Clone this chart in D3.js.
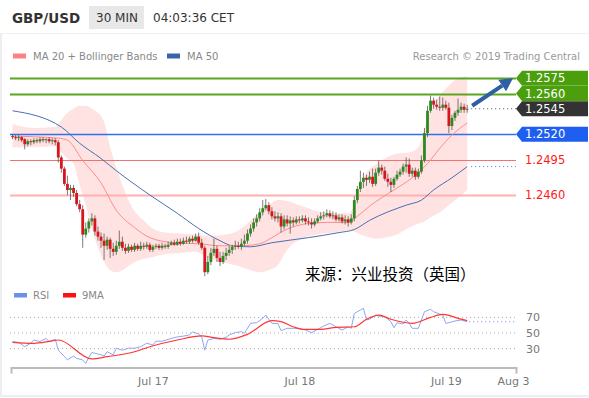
<!DOCTYPE html>
<meta charset="utf-8">
<style>

body {
  margin: 0;
  background: #fff;
}

svg {
  display: block;
  font-family: "DejaVu Sans", sans-serif;
}

</style>
<svg></svg>
<script src="https://d3js.org/d3.v7.min.js"></script>
<script>

var width = 589,
    height = 398;

// 30 min candles, GBP/USD
var open = [1.2518,1.2517,1.2516,1.2517,1.2515,1.2510,1.2513,1.2512,1.2514,1.2513,1.2515,1.2514,1.2515,1.2513,1.2514,
  1.2512,1.2497,1.2486,1.2471,1.2465,1.2467,1.2462,1.2451,1.2446,1.2421,1.2427,1.2434,1.2437,1.2424,1.2419,
  1.2415,1.2410,1.2416,1.2407,1.2404,1.2410,1.2414,1.2408,1.2405,1.2409,1.2406,1.2410,1.2407,1.2410,1.2409,
  1.2411,1.2406,1.2409,1.2410,1.2408,1.2410,1.2409,1.2411,1.2413,1.2411,1.2414,1.2412,1.2415,1.2414,1.2417,
  1.2415,1.2419,1.2413,1.2408,1.2384,1.2394,1.2403,1.2407,1.2398,1.2394,1.2400,1.2403,1.2406,1.2409,1.2410,
  1.2409,1.2412,1.2415,1.2422,1.2427,1.2433,1.2437,1.2443,1.2447,1.2450,1.2444,1.2439,1.2437,1.2439,1.2429,
  1.2436,1.2432,1.2435,1.2433,1.2436,1.2435,1.2437,1.2434,1.2433,1.2431,1.2434,1.2437,1.2439,1.2440,1.2442,
  1.2439,1.2440,1.2436,1.2438,1.2434,1.2436,1.2433,1.2437,1.2455,1.2466,1.2473,1.2477,1.2475,1.2478,1.2471,
  1.2482,1.2487,1.2484,1.2476,1.2473,1.2470,1.2476,1.2480,1.2483,1.2488,1.2490,1.2481,1.2484,1.2478,1.2483,
  1.2494,1.2521,1.2543,1.2553,1.2549,1.2547,1.2546,1.2549,1.2546,1.2528,1.2536,1.2541,1.2544,1.2547,1.2544];

var close = [1.2517,1.2516,1.2517,1.2514,1.2510,1.2513,1.2512,1.2514,1.2513,1.2515,1.2514,1.2515,1.2513,1.2514,1.2512,
  1.2497,1.2486,1.2471,1.2465,1.2467,1.2462,1.2451,1.2446,1.2421,1.2427,1.2434,1.2437,1.2424,1.2419,1.2415,
  1.2410,1.2416,1.2407,1.2404,1.2410,1.2414,1.2408,1.2405,1.2409,1.2406,1.2410,1.2407,1.2410,1.2409,1.2411,
  1.2406,1.2409,1.2410,1.2408,1.2410,1.2409,1.2411,1.2413,1.2411,1.2414,1.2412,1.2415,1.2414,1.2417,1.2415,
  1.2419,1.2413,1.2408,1.2384,1.2394,1.2403,1.2407,1.2398,1.2394,1.2400,1.2403,1.2406,1.2409,1.2410,1.2409,
  1.2412,1.2415,1.2422,1.2427,1.2433,1.2437,1.2443,1.2447,1.2450,1.2444,1.2439,1.2437,1.2439,1.2429,1.2436,
  1.2432,1.2435,1.2433,1.2436,1.2435,1.2437,1.2434,1.2433,1.2431,1.2434,1.2437,1.2439,1.2440,1.2442,1.2439,
  1.2440,1.2436,1.2438,1.2434,1.2436,1.2433,1.2437,1.2455,1.2466,1.2473,1.2477,1.2475,1.2478,1.2471,1.2482,
  1.2487,1.2484,1.2476,1.2473,1.2470,1.2476,1.2480,1.2483,1.2488,1.2490,1.2481,1.2484,1.2478,1.2483,1.2494,
  1.2521,1.2543,1.2553,1.2549,1.2547,1.2546,1.2549,1.2546,1.2528,1.2536,1.2541,1.2544,1.2547,1.2544,1.2545];

var high = [1.2520,1.2519,1.2519,1.2518,1.2516,1.2515,1.2515,1.2516,1.2516,1.2517,1.2517,1.2516,1.2517,1.2516,1.2516,
  1.2514,1.2499,1.2488,1.2479,1.2470,1.2470,1.2465,1.2455,1.2450,1.2433,1.2437,1.2442,1.2440,1.2429,1.2423,
  1.2422,1.2419,1.2418,1.2413,1.2415,1.2425,1.2419,1.2412,1.2412,1.2411,1.2413,1.2412,1.2414,1.2413,1.2414,
  1.2413,1.2411,1.2412,1.2412,1.2413,1.2412,1.2414,1.2415,1.2416,1.2417,1.2417,1.2418,1.2419,1.2419,1.2420,
  1.2422,1.2423,1.2417,1.2410,1.2400,1.2408,1.2417,1.2410,1.2404,1.2404,1.2408,1.2410,1.2411,1.2415,1.2414,
  1.2417,1.2421,1.2426,1.2431,1.2437,1.2441,1.2447,1.2455,1.2456,1.2453,1.2448,1.2444,1.2443,1.2442,1.2440,
  1.2440,1.2439,1.2438,1.2439,1.2439,1.2440,1.2440,1.2438,1.2437,1.2437,1.2440,1.2443,1.2444,1.2446,1.2445,
  1.2444,1.2443,1.2441,1.2441,1.2440,1.2439,1.2441,1.2459,1.2469,1.2484,1.2482,1.2480,1.2483,1.2486,1.2486,
  1.2494,1.2490,1.2488,1.2481,1.2477,1.2478,1.2484,1.2486,1.2491,1.2497,1.2496,1.2487,1.2487,1.2486,1.2499,
  1.2526,1.2548,1.2558,1.2556,1.2554,1.2557,1.2556,1.2553,1.2551,1.2539,1.2543,1.2555,1.2551,1.2550,1.2549];

var low = [1.2515,1.2514,1.2513,1.2512,1.2505,1.2508,1.2509,1.2510,1.2511,1.2511,1.2512,1.2511,1.2511,1.2510,1.2509,
  1.2492,1.2482,1.2469,1.2460,1.2455,1.2458,1.2449,1.2443,1.2408,1.2418,1.2423,1.2430,1.2420,1.2415,1.2408,
  1.2396,1.2406,1.2398,1.2400,1.2401,1.2407,1.2405,1.2402,1.2403,1.2404,1.2404,1.2405,1.2405,1.2406,1.2407,
  1.2404,1.2404,1.2407,1.2406,1.2406,1.2407,1.2407,1.2410,1.2410,1.2410,1.2410,1.2411,1.2412,1.2412,1.2413,
  1.2414,1.2411,1.2406,1.2380,1.2382,1.2391,1.2400,1.2394,1.2390,1.2392,1.2396,1.2400,1.2402,1.2406,1.2407,
  1.2406,1.2410,1.2412,1.2419,1.2424,1.2429,1.2434,1.2440,1.2445,1.2441,1.2436,1.2434,1.2433,1.2423,1.2426,
  1.2429,1.2422,1.2429,1.2431,1.2432,1.2433,1.2431,1.2430,1.2427,1.2429,1.2432,1.2435,1.2436,1.2438,1.2437,
  1.2436,1.2434,1.2434,1.2432,1.2431,1.2429,1.2431,1.2434,1.2452,1.2463,1.2467,1.2469,1.2472,1.2468,1.2469,
  1.2479,1.2480,1.2474,1.2468,1.2463,1.2467,1.2474,1.2478,1.2480,1.2482,1.2478,1.2478,1.2475,1.2476,1.2481,
  1.2492,1.2517,1.2541,1.2545,1.2544,1.2543,1.2543,1.2544,1.2521,1.2524,1.2533,1.2538,1.2541,1.2541,1.2541];

// MA 20, Bollinger bands and MA 50, read at bar positions
var ma20Idx = [0,15,18,23,29,34,40,45,53,61,68,75,81,85,89,97,103,110,113,117,125,131,136,140,144,149];
var ma20 = [1.2518,1.2516,1.2514,1.2494,1.2472,1.2445,1.2428,1.2418,1.2413,1.2412,1.2410,1.2410,1.2412,
  1.2418,1.2425,1.2432,1.2433,1.2433,1.2439,1.2449,1.2465,1.2477,1.2491,1.2506,1.2519,1.2531];

var ma50Idx = [0,16,22,29,34,45,54,61,68,72,78,85,97,107,112,117,129,134,138,144,149];
var ma50 = [1.2543,1.2527,1.2511,1.2496,1.2484,1.2460,1.2442,1.2427,1.2415,1.2410,1.2409,1.2413,1.2418,
  1.2423,1.2426,1.2435,1.2450,1.2455,1.2465,1.2477,1.2488];

var bandIdx = [0,7,14,16,18,20,22,24,26,28,30,32,34,36,38,40,43,46,50,55,60,63,66,70,74,78,81,84,87,90,
  93,96,100,105,110,112,114,116,119,122,126,130,133,135,137,140,143,146,149];
var bandUpper = [1.2530,1.2526,1.2527,1.2534,1.2541,1.2545,1.2548,1.2548,1.2545,1.2541,1.2532,1.2507,1.2487,
  1.2470,1.2455,1.2444,1.2435,1.2427,1.2423,1.2422,1.2421,1.2420,1.2420,1.2421,1.2425,1.2435,1.2443,1.2450,
  1.2455,1.2454,1.2451,1.2448,1.2444,1.2442,1.2442,1.2450,1.2470,1.2482,1.2490,1.2496,1.2501,1.2502,1.2507,
  1.2526,1.2545,1.2558,1.2568,1.2575,1.2577];
var bandLower = [1.2507,1.2507,1.2508,1.2502,1.2496,1.2491,1.2470,1.2450,1.2427,1.2408,1.2394,1.2386,1.2384,
  1.2386,1.2390,1.2394,1.2397,1.2399,1.2402,1.2403,1.2404,1.2400,1.2396,1.2393,1.2390,1.2386,1.2384,1.2386,
  1.2391,1.2406,1.2414,1.2418,1.2421,1.2423,1.2425,1.2424,1.2421,1.2419,1.2417,1.2418,1.2421,1.2428,1.2432,
  1.2434,1.2438,1.2443,1.2450,1.2457,1.2465];

// Key levels
var levels = [1.2575, 1.2560, 1.2545, 1.2520, 1.2495, 1.2460];
var levelLabels = ["1.2575", "1.2560", "1.2545", "1.2520", "1.2495", "1.2460"];
var targetPrice = 1.2575;

// RSI panel
var rsiIdx = [0,2,4,6,7,9,11,12,14,15,17,18,20,21,23,24,25,26,29,30,31,33,34,36,38,40,42,44,46,47,49,52,54,56,
  58,59,61,62,63,64,66,68,70,71,73,75,76,78,80,82,83,84,85,87,88,90,92,94,96,98,100,102,104,106,108,110,111,
  112,114,115,116,117,119,120,122,124,125,126,128,129,130,131,133,134,135,137,138,140,141,142,143,145,147,149];
var rsi = [39,38,32.5,37,41,39,43,39,42,28,20,15.5,20.5,17.5,15.5,11,19,25,22,20.5,26,22,30.5,28,30.5,30.5,
  32.5,37,34.5,39.5,39.5,43,45,46,47.5,51.5,48.7,45,28,41,43,42,44.5,47.5,50.5,51.7,49.6,62.4,63.2,68.8,73,
  67.6,62.4,62,53,56,56,56,53.8,50.4,54.7,59,62.4,58,53.8,58,56,75,79.5,81.7,66.7,67.6,73,71.8,71,64.5,56.8,
  63.2,61.5,66.7,62.4,56,56,66.7,77.3,80.4,77.3,74.4,73,62.4,63.2,65.4,66.7,64.5];

var rsiMaIdx = [0,7,13,15,26,31,40,45,54,62,66,71,77,85,88,92,95,101,106,112,116,120,124,131,137,141,146,149];
var rsiMa = [38,36.8,40,41,16.7,19.6,26,32.4,41,46.2,44,42,48.3,65.8,64.5,58,54.7,54.7,57.3,58,67.6,73,67.6,
  62.4,70.1,74,68.8,65.8];

var rsiLevels = [70, 50, 30];

var tickIdx = [46, 94, 142, 164];
var tickLabels = ["Jul 17", "Jul 18", "Jul 19", "Aug 3"];

var svg = d3.select("svg")
    .attr("width", width)
    .attr("height", height);

var x = d3.scaleLinear()
    .domain([-0.5, 165])
    .range([11, 516]);

var y = d3.scaleLinear()
    .domain([1.2575, 1.2375])
    .range([78.3, 281.3]);

var yr = d3.scaleLinear()
    .domain([30, 70])
    .range([348.6, 317.4]);

var lastIdx = close.length - 1,
    plotRight = x(165);

// frame
svg.append("rect").attr("x", 0).attr("y", 34).attr("width", 2).attr("height", 362).attr("fill", "#eceef1");
svg.append("rect").attr("x", 0).attr("y", 395).attr("width", width).attr("height", 2).attr("fill", "#eceef1");
svg.append("rect").attr("x", 0).attr("y", 33).attr("width", width).attr("height", 1).attr("fill", "#f1f1f1");

// header
svg.append("text").attr("x", 12).attr("y", 23)
    .attr("font-size", 13.5).attr("font-weight", "bold").attr("fill", "#333")
    .text("GBP/USD");
svg.append("rect").attr("x", 89).attr("y", 6).attr("width", 55).attr("height", 23).attr("fill", "#e8e8e8");
svg.append("text").attr("x", 96).attr("y", 22).attr("font-size", 12).attr("fill", "#333").text("30 MIN");
svg.append("text").attr("x", 153).attr("y", 22).attr("font-size", 12).attr("fill", "#333").text("04:03:36 CET");

// legend
var legend = [
  {x: 13, color: "#ff8080", text: "MA 20 + Bollinger Bands"},
  {x: 167, color: "#3c64a8", text: "MA 50"}
];
legend.forEach(function(d) {
  svg.append("rect").attr("x", d.x).attr("y", 53.5).attr("width", 13).attr("height", 5).attr("fill", d.color);
  svg.append("text").attr("x", d.x + 20).attr("y", 59.5).attr("font-size", 10).attr("fill", "#888").text(d.text);
});
svg.append("text").attr("x", 580).attr("y", 59.5).attr("text-anchor", "end")
    .attr("font-size", 10).attr("fill", "#999").text("Research \u00a9 2019 Trading Central");

// Bollinger band
var band = bandIdx.map(function(d, i) { return {i: d, hi: bandUpper[i], lo: bandLower[i]}; });
svg.append("path")
    .datum(band)
    .attr("fill", "#ffe2e2")
    .attr("d", d3.area()
      .x(function(d) { return x(d.i); })
      .y0(function(d) { return y(d.lo); })
      .y1(function(d) { return y(d.hi); })
      .curve(d3.curveMonotoneX));

// level lines
var levelStyle = [
  {line: "#5aa71f", w: 2, box: "#4c9f0c", text: "#fff"},
  {line: "#5aa71f", w: 2, box: "#4c9f0c", text: "#fff"},
  {line: null, w: 0, box: "#333333", text: "#fff"},
  {line: "#2f6ff0", w: 1.5, box: "#1e5ff2", text: "#fff"},
  {line: "#ef7373", w: 1, box: null, text: "#ff1a1a"},
  {line: "#ffb0b0", w: 2, box: null, text: "#ff1a1a"}
];

levels.forEach(function(p, k) {
  var s = levelStyle[k];
  if (s.line) {
    svg.append("line")
        .attr("x1", 10).attr("x2", plotRight)
        .attr("y1", Math.round(y(p)) + 0.5).attr("y2", Math.round(y(p)) + 0.5)
        .attr("stroke", s.line).attr("stroke-width", s.w);
  }
});

// moving averages
var line = d3.line()
    .x(function(d) { return x(d[0]); })
    .y(function(d) { return y(d[1]); })
    .curve(d3.curveMonotoneX);

svg.append("path")
    .datum(ma50Idx.map(function(d, i) { return [d, ma50[i]]; }))
    .attr("fill", "none").attr("stroke", "#4a6fb2").attr("stroke-width", 1)
    .attr("d", line);

svg.append("path")
    .datum(ma20Idx.map(function(d, i) { return [d, ma20[i]]; }))
    .attr("fill", "none").attr("stroke", "#ff8c8c").attr("stroke-width", 1)
    .attr("d", line);

// candles
var candles = open.map(function(o, i) {
  return {i: i, o: o, h: high[i], l: low[i], c: close[i]};
});

var candle = svg.append("g").selectAll("g")
    .data(candles)
  .enter().append("g");

candle.append("line")
    .attr("x1", function(d) { return x(d.i); })
    .attr("x2", function(d) { return x(d.i); })
    .attr("y1", function(d) { return y(d.h); })
    .attr("y2", function(d) { return y(d.l); })
    .attr("stroke", "#444")
    .attr("stroke-opacity", 0.7)
    .attr("stroke-width", 1);

candle.append("rect")
    .attr("x", function(d) { return x(d.i) - 1.4; })
    .attr("width", 2.8)
    .attr("y", function(d) { return y(Math.max(d.o, d.c)); })
    .attr("height", function(d) { return Math.max(1, Math.abs(y(d.o) - y(d.c))); })
    .attr("fill", function(d) { return d.c >= d.o ? "#2e8a20" : "#d8151b"; });

// dotted extensions
svg.append("line")
    .attr("x1", x(lastIdx) + 4).attr("x2", plotRight)
    .attr("y1", y(close[lastIdx])).attr("y2", y(close[lastIdx]))
    .attr("stroke", "#555").attr("stroke-width", 1).attr("stroke-dasharray", "1,3");
svg.append("line")
    .attr("x1", x(lastIdx) + 4).attr("x2", plotRight)
    .attr("y1", y(ma50[ma50.length - 1])).attr("y2", y(ma50[ma50.length - 1]))
    .attr("stroke", "#4a6fd8").attr("stroke-width", 1).attr("stroke-dasharray", "1,3");

// arrow towards the target
var ax0 = x(lastIdx) + 5, ay0 = y(close[lastIdx]) - 3,
    ax1 = x(164), ay1 = y(targetPrice),
    ang = Math.atan2(ay1 - ay0, ax1 - ax0),
    headLen = 13, headW = 7;
var bx = ax1 - headLen * Math.cos(ang), by = ay1 - headLen * Math.sin(ang);
svg.append("line")
    .attr("x1", ax0).attr("y1", ay0).attr("x2", bx).attr("y2", by)
    .attr("stroke", "#2f5ea6").attr("stroke-width", 4);
svg.append("path")
    .attr("fill", "#2f5ea6")
    .attr("d", "M" + ax1 + "," + ay1 +
      "L" + (bx + headW * Math.sin(ang)) + "," + (by - headW * Math.cos(ang)) +
      "L" + (bx - headW * Math.sin(ang)) + "," + (by + headW * Math.cos(ang)) + "Z");

// level labels
levels.forEach(function(p, k) {
  var s = levelStyle[k], yc = y(p), x0 = 516, x1 = 588, h = 7.5;
  if (s.box) {
    svg.append("path")
        .attr("fill", s.box)
        .attr("d", "M" + x0 + "," + yc + "L" + (x0 + 6) + "," + (yc - h) + "L" + x1 + "," + (yc - h) +
          "L" + x1 + "," + (yc + h) + "L" + (x0 + 6) + "," + (yc + h) + "Z");
  }
  svg.append("text")
      .attr("x", 525).attr("y", yc).attr("dy", "0.36em")
      .attr("font-size", 11.5).attr("fill", s.text)
      .text(levelLabels[k]);
});

// source note
svg.append("text")
    .attr("x", 305).attr("y", 280)
    .attr("font-family", "'Noto Sans CJK SC', sans-serif")
    .attr("font-size", 15.5).attr("fill", "#000")
    .text("来源：兴业投资（英国）");

// RSI panel
var rsiLegend = [
  {x: 14, color: "#6f90ea", text: "RSI"},
  {x: 63, color: "#ff1010", text: "9MA"}
];
rsiLegend.forEach(function(d) {
  svg.append("rect").attr("x", d.x).attr("y", 293).attr("width", 13).attr("height", 4.5).attr("fill", d.color);
  svg.append("text").attr("x", d.x + 19).attr("y", 299).attr("font-size", 10).attr("fill", "#888").text(d.text);
});

rsiLevels.forEach(function(v) {
  svg.append("line")
      .attr("x1", 10).attr("x2", 517)
      .attr("y1", yr(v)).attr("y2", yr(v))
      .attr("stroke", "#aaa").attr("stroke-width", 1).attr("stroke-dasharray", "1,3");
  svg.append("text")
      .attr("x", 526).attr("y", yr(v)).attr("dy", "0.36em")
      .attr("font-size", 11).attr("fill", "#777")
      .text(v);
});

var rline = d3.line()
    .x(function(d) { return x(d[0]); })
    .y(function(d) { return yr(d[1]); });

svg.append("path")
    .datum(rsiIdx.map(function(d, i) { return [d, rsi[i]]; }))
    .attr("fill", "none").attr("stroke", "#8ea8f0").attr("stroke-width", 1)
    .attr("d", rline);

svg.append("path")
    .datum(rsiMaIdx.map(function(d, i) { return [d, rsiMa[i]]; }))
    .attr("fill", "none").attr("stroke", "#ff3535").attr("stroke-width", 1.2)
    .attr("d", rline.curve(d3.curveMonotoneX));

svg.append("line")
    .attr("x1", x(lastIdx) + 2).attr("x2", 517)
    .attr("y1", yr(rsi[rsi.length - 1])).attr("y2", yr(rsi[rsi.length - 1]))
    .attr("stroke", "#6f90ea").attr("stroke-width", 1).attr("stroke-dasharray", "1,3");

// time axis
var axis = svg.append("g")
    .attr("transform", "translate(0,367.5)")
    .call(d3.axisBottom(x)
      .tickValues(tickIdx)
      .tickFormat(function(d, i) { return tickLabels[i]; })
      .tickSizeInner(0)
      .tickSizeOuter(6)
      .tickPadding(10));

axis.select(".domain").attr("stroke", "#bbb").attr("stroke-width", 2);
axis.selectAll("text")
    .attr("font-family", "DejaVu Sans, sans-serif")
    .attr("font-size", 11)
    .attr("fill", "#777");

</script>
